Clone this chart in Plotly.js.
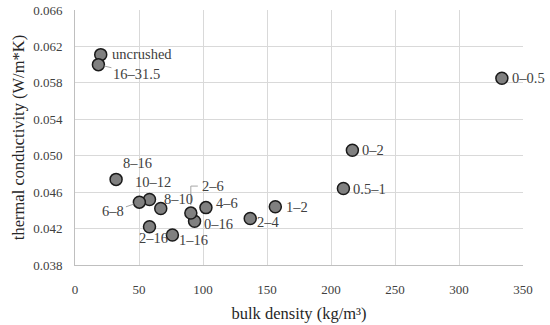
<!DOCTYPE html>
<html><head><meta charset="utf-8">
<script src="https://cdn.plot.ly/plotly-3.0.1.min.js"></script>
<style>html,body{margin:0;padding:0;background:#fff}#c{width:550px;height:325px}</style>
</head><body><div id="c"></div>
<script>
const labels = ["uncrushed","16–31.5","0–0.5","0–2","0.5–1","1–2","2–4","4–6","0–16","2–6","8–10","10–12","6–8","8–16","2–16","1–16"];
const bulkDensity = [20.1,18.3,333.5,216.7,209.7,156.5,136.9,102.3,93.4,90.5,67.0,58.2,50.3,32.1,58.2,76.1];
const conductivity = [0.0611,0.0600,0.0585,0.0506,0.0464,0.0444,0.0431,0.0443,0.0428,0.0437,0.0442,0.0452,0.0449,0.0474,0.0422,0.0413];
const xTicks = [0,50,100,150,200,250,300,350];
const yTicks = [0.038,0.042,0.046,0.050,0.054,0.058,0.062,0.066];

const place = {
  "uncrushed": {xanchor:"left", xshift:9, yshift:1},
  "16–31.5": {arrow:true, ax:38, ay:9},
  "0–0.5": {xanchor:"left", xshift:8, yshift:0},
  "0–2": {xanchor:"left", xshift:8, yshift:0},
  "0.5–1": {xanchor:"left", xshift:8, yshift:0},
  "1–2": {xanchor:"left", xshift:9, yshift:0},
  "2–4": {xanchor:"left", xshift:5, yshift:-3},
  "4–6": {xanchor:"left", xshift:8, yshift:5},
  "0–16": {xanchor:"left", xshift:7, yshift:-3},
  "2–6": {xanchor:"left", xshift:9, yshift:27, elbow:true},
  "8–10": {xanchor:"left", xshift:1, yshift:10},
  "10–12": {xanchor:"center", xshift:3, yshift:17},
  "6–8": {arrow:true, ax:-26, ay:9},
  "8–16": {xanchor:"center", xshift:21, yshift:16},
  "2–16": {xanchor:"center", xshift:4, yshift:-11},
  "1–16": {xanchor:"left", xshift:5, yshift:-5}
};
const FAM = "Liberation Serif";
const font = {family:FAM, size:14.5, color:"#404040"};
const annotations = [];
const shapes = [];
labels.forEach((t,i)=>{
  const p = place[t];
  if (p.arrow) {
    annotations.push({x:bulkDensity[i], y:conductivity[i], text:t, showarrow:true, arrowhead:0, arrowwidth:1, arrowcolor:"#a6a6a6", ax:p.ax, ay:p.ay, standoff:6, font:font});
  } else {
    annotations.push({x:bulkDensity[i], y:conductivity[i], text:t, showarrow:false, xanchor:p.xanchor, yanchor:"middle", xshift:p.xshift, yshift:p.yshift, font:font});
  }
  if (p.elbow) {
    shapes.push({type:"path", xref:"x", yref:"y", xsizemode:"pixel", ysizemode:"pixel", xanchor:bulkDensity[i], yanchor:conductivity[i], path:"M0,8 V27 H7", line:{color:"#a6a6a6", width:1}});
  }
});

const trace = {
  x: bulkDensity, y: conductivity, type:"scatter", mode:"markers",
  marker:{size:12, color:"#808080", line:{color:"#1a1a1a", width:1.5}},
  hoverinfo:"skip"
};
const layout = {
  width:550, height:325,
  margin:{l:75, r:27, t:10, b:60},
  paper_bgcolor:"#fff", plot_bgcolor:"#fff",
  showlegend:false,
  font:font,
  xaxis:{range:[0,350], tickvals:xTicks, ticktext:xTicks.map(String), showgrid:true, gridcolor:"#d9d9d9", gridwidth:1,
    zeroline:false, showline:true, linecolor:"#bfbfbf", linewidth:1, ticks:"", ticklen:0, ticklabelstandoff:12,
    tickfont:{family:FAM, size:13, color:"#404040"},
    title:{text:"bulk density (kg/m³)", font:{family:FAM, size:16.5, color:"#262626"}, standoff:11}},
  yaxis:{range:[0.038,0.066], tickvals:yTicks, ticktext:yTicks.map(v=>v.toFixed(3)), showgrid:true, gridcolor:"#d9d9d9", gridwidth:1,
    zeroline:false, showline:true, linecolor:"#bfbfbf", linewidth:1, ticks:"", ticklabelstandoff:9,
    tickfont:{family:FAM, size:13, color:"#404040"},
    title:{text:"thermal conductivity (W/m*K)", font:{family:FAM, size:16.5, color:"#262626"}, standoff:4}},
  annotations:annotations,
  shapes:shapes
};
Plotly.newPlot("c", [trace], layout, {displayModeBar:false, staticPlot:true});
</script>
</body></html>
